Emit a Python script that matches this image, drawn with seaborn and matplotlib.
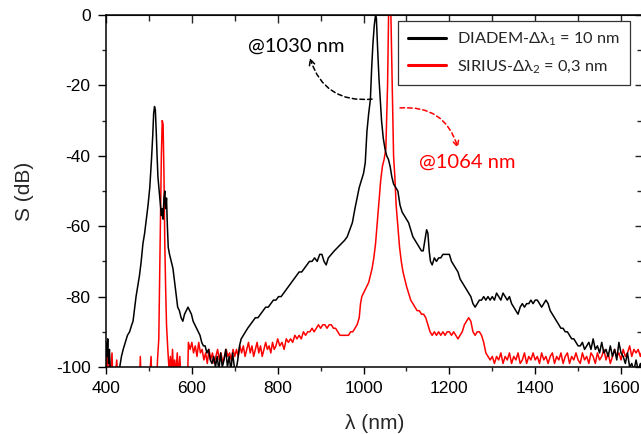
import numpy as np
import pandas as pd
import matplotlib
matplotlib.use("Agg")
import matplotlib.pyplot as plt
from matplotlib.ticker import MultipleLocator
import seaborn as sns

# ---------------- data ----------------
diadem_wl = [400, 402, 404, 406, 408, 410, 412, 430, 432, 436, 440, 445, 450, 455, 460, 463, 466, 470, 474, 478,
             482, 486, 490, 494, 498, 502, 506, 509, 511, 513, 515, 517, 519, 521, 524, 527, 529, 531, 533, 535,
             537, 539, 541, 543, 545, 548, 552, 556, 560, 564, 567, 571, 575, 579, 583, 587, 591, 595, 599, 603,
             607, 611, 615, 619, 623, 627, 631, 635, 639, 643, 647, 651, 655, 659, 663, 667, 671, 675, 679, 683,
             687, 691, 695, 699, 703, 707, 711, 715, 720, 725, 730, 736, 742, 748, 754, 760, 766, 772, 778, 784,
             790, 796, 802, 808, 814, 820, 826, 832, 838, 844, 850, 856, 862, 868, 874, 880, 886, 892, 898, 903,
             908, 913, 918, 925, 932, 940, 948, 956, 962, 968, 974, 980, 985, 990, 995, 1000, 1004, 1008, 1012, 1016,
             1019, 1022, 1025, 1028, 1030, 1033, 1036, 1039, 1042, 1046, 1050, 1054, 1058, 1062, 1066, 1070, 1075, 1080, 1085, 1090,
             1095, 1100, 1105, 1110, 1115, 1120, 1125, 1130, 1135, 1139, 1143, 1147, 1150, 1153, 1156, 1160, 1165, 1170, 1175, 1180,
             1185, 1190, 1195, 1200, 1205, 1210, 1215, 1220, 1225, 1230, 1235, 1240, 1245, 1250, 1255, 1260, 1265, 1270, 1275, 1280,
             1285, 1290, 1295, 1300, 1305, 1310, 1315, 1320, 1325, 1330, 1335, 1340, 1345, 1350, 1355, 1360, 1365, 1370, 1375, 1380,
             1385, 1390, 1395, 1400, 1405, 1410, 1415, 1420, 1425, 1430, 1435, 1440, 1445, 1450, 1455, 1460, 1465, 1470, 1475, 1480,
             1485, 1490, 1495, 1500, 1505, 1510, 1515, 1520, 1525, 1530, 1535, 1540, 1545, 1550, 1555, 1560, 1565, 1570, 1575, 1580,
             1585, 1590, 1595, 1600, 1605, 1610, 1615, 1620, 1625, 1630, 1635, 1640, 1645, 1650]
diadem_db = [-93, -97, -92, -99, -95, -101, -104, -105, -100, -97, -95, -93, -91, -90, -88, -87, -84, -80, -77, -74,
             -70, -65, -62, -58, -54, -49, -41, -34, -28, -26, -27, -33, -40, -46, -50, -54, -57, -55, -58, -52,
             -50, -55, -52, -60, -66, -68, -70, -72, -76, -80, -83, -84, -86, -87, -85, -84, -83, -84, -85, -87,
             -88, -89, -90, -91, -93, -94, -94, -96, -95, -98, -99, -97, -100, -97, -101, -96, -100, -98, -95, -100,
             -97, -101, -96, -100, -101, -98, -94, -92, -91, -90, -89, -88, -87, -86, -86, -85, -84, -83, -83, -82,
             -81, -81, -80, -80, -79, -78, -77, -76, -75, -74, -73, -73, -72, -71, -70, -70, -69, -70, -68, -68,
             -70, -71, -69, -68, -67, -66, -65, -64, -63, -61, -59, -55, -52, -49, -47, -45, -42, -33, -28, -24,
             -15, -8, -3, 0, -1, -10, -18, -24, -30, -35, -38, -40, -41, -43, -46, -48, -49, -50, -54, -56,
             -57, -58, -59, -61, -63, -64, -65, -66, -67, -67, -64, -61, -62, -67, -70, -71, -69, -70, -69, -69,
             -68, -68, -68, -68, -70, -71, -72, -73, -75, -76, -77, -78, -79, -80, -82, -83, -82, -81, -81, -80,
             -81, -80, -81, -80, -81, -79, -80, -81, -79, -80, -81, -80, -82, -83, -84, -85, -83, -82, -83, -82,
             -82, -81, -82, -81, -81, -82, -83, -82, -81, -82, -84, -85, -86, -87, -88, -89, -89, -90, -90, -91,
             -92, -92, -93, -94, -94, -93, -95, -94, -93, -95, -92, -95, -94, -96, -93, -96, -95, -97, -94, -97,
             -95, -98, -93, -96, -97, -99, -96, -100, -99, -101, -98, -101, -99, -101]

sirius_wl = [400, 402, 404, 406, 408, 410, 414, 416, 420, 425, 428, 440, 460, 478, 480, 482, 500, 505, 507, 518,
             520, 523, 525, 527, 529, 531, 533, 535, 537, 539, 541, 544, 547, 550, 552, 555, 557, 560, 563, 566,
             569, 572, 575, 580, 590, 592, 596, 600, 604, 608, 612, 616, 620, 624, 628, 632, 636, 640, 644, 648,
             652, 656, 660, 664, 668, 672, 676, 680, 684, 688, 692, 696, 700, 704, 708, 712, 716, 720, 724, 728,
             732, 736, 740, 744, 748, 752, 756, 760, 764, 768, 772, 776, 780, 784, 788, 792, 796, 800, 805, 810,
             815, 820, 825, 830, 835, 840, 845, 850, 855, 860, 865, 870, 875, 880, 885, 890, 895, 900, 905, 910,
             915, 920, 925, 930, 935, 940, 945, 950, 955, 960, 965, 970, 975, 980, 985, 990, 993, 996, 1000, 1004,
             1008, 1012, 1016, 1020, 1024, 1028, 1032, 1036, 1040, 1044, 1048, 1052, 1056, 1059, 1063, 1067, 1070, 1073, 1076, 1080,
             1084, 1088, 1092, 1096, 1100, 1105, 1110, 1115, 1120, 1125, 1130, 1135, 1140, 1145, 1150, 1155, 1160, 1165, 1170, 1175,
             1180, 1185, 1190, 1195, 1200, 1205, 1210, 1215, 1220, 1225, 1230, 1235, 1240, 1245, 1250, 1255, 1260, 1265, 1270, 1275,
             1280, 1285, 1290, 1295, 1300, 1305, 1310, 1315, 1320, 1325, 1330, 1335, 1340, 1345, 1350, 1355, 1360, 1365, 1370, 1375,
             1380, 1385, 1390, 1395, 1400, 1405, 1410, 1415, 1420, 1425, 1430, 1435, 1440, 1445, 1450, 1455, 1460, 1465, 1470, 1475,
             1480, 1485, 1490, 1495, 1500, 1505, 1510, 1515, 1520, 1525, 1530, 1535, 1540, 1545, 1550, 1555, 1560, 1565, 1570, 1575,
             1580, 1585, 1590, 1595, 1600, 1605, 1610, 1615, 1620, 1625, 1630, 1635, 1640, 1645, 1650]
sirius_db = [-101, -96, -100, -103, -99, -104, -96, -104, -105, -98, -105, -106, -106, -105, -97, -105, -106, -97, -105, -104,
             -98, -92, -75, -60, -40, -30, -31, -45, -65, -78, -88, -95, -101, -97, -103, -95, -101, -98, -102, -96,
             -103, -97, -104, -103, -104, -93, -95, -93, -96, -94, -97, -93, -96, -95, -98, -96, -99, -95, -98, -96,
             -99, -97, -95, -98, -96, -99, -97, -95, -97, -96, -98, -95, -97, -95, -97, -94, -96, -94, -97, -95,
             -93, -96, -94, -97, -95, -93, -96, -94, -97, -95, -93, -95, -94, -96, -93, -95, -94, -92, -94, -93,
             -95, -92, -93, -92, -93, -91, -92, -91, -92, -90, -91, -90, -90, -89, -90, -89, -88, -89, -88, -88,
             -89, -88, -88, -89, -89, -90, -91, -91, -91, -91, -91, -90, -90, -89, -88, -86, -82, -80, -79, -78,
             -77, -76, -74, -72, -69, -65, -59, -53, -47, -43, -41, -38, -20, 5, 5, -20, -40, -46, -54, -60,
             -66, -70, -73, -75, -77, -79, -81, -82, -83, -84, -84, -85, -85, -86, -88, -90, -91, -90, -91, -90,
             -91, -90, -91, -90, -90, -91, -90, -91, -92, -91, -90, -88, -87, -86, -87, -90, -91, -90, -90, -91,
             -93, -96, -97, -98, -97, -99, -97, -98, -96, -99, -97, -98, -96, -99, -97, -98, -96, -99, -98, -96,
             -99, -97, -98, -96, -98, -97, -99, -96, -98, -97, -99, -97, -96, -99, -97, -98, -96, -99, -97, -96,
             -99, -97, -98, -96, -98, -99, -96, -98, -97, -99, -96, -97, -99, -96, -98, -97, -95, -98, -96, -99,
             -97, -95, -97, -96, -98, -95, -97, -96, -94, -97, -95, -96, -95, -97, -95]

series_names = ["DIADEM", "SIRIUS"]
legend_labels = [r"DIADEM-$\mathregular{Δλ_1}$ = 10 nm", r"SIRIUS-$\mathregular{Δλ_2}$ = 0,3 nm"]
x_ticks = [400, 600, 800, 1000, 1200, 1400, 1600]
y_ticks = [0, -20, -40, -60, -80, -100]

# ---------------- figure ----------------
sns.set_style("ticks")
plt.rcParams["font.family"] = ["Liberation Sans", "DejaVu Sans"]
plt.rcParams["mathtext.fontset"] = "custom"

df = pd.concat([
    pd.DataFrame({"wl": diadem_wl, "S": diadem_db, "src": series_names[0]}),
    pd.DataFrame({"wl": sirius_wl, "S": sirius_db, "src": series_names[1]}),
])

fig = plt.figure(figsize=(6.41, 4.34), dpi=100)
L, B = 106 / 641, 1 - 367 / 434
W, H = (642.5 - 106) / 641, (367 - 15) / 434
ax = fig.add_axes([L, B, W, H])

sns.lineplot(data=df, x="wl", y="S", hue="src", palette={"DIADEM": "black", "SIRIUS": "#ff0000"},
             hue_order=["SIRIUS", "DIADEM"], sort=False, estimator=None, units="src",
             linewidth=1.1, ax=ax, legend=False)

ax.set_xlim(400, 400 + (642.5 - 106) / 0.4292)
ax.set_ylim(-100, 0)
ax.set_xticks(x_ticks)
ax.set_yticks(y_ticks)
ax.set_yticklabels([f"{v}" for v in y_ticks])
ax.set_xticklabels([f"{v}" for v in x_ticks])
ax.xaxis.set_minor_locator(MultipleLocator(100))
ax.yaxis.set_minor_locator(MultipleLocator(10))
ax.tick_params(axis="x", which="major", direction="out", length=5, width=1, labelsize=12.5, colors="black", pad=5)
ax.tick_params(axis="y", which="major", direction="out", length=6, width=1, labelsize=12.5, colors="black", pad=5)
ax.tick_params(which="minor", direction="out", length=3, width=1)
for s in ["left", "bottom", "top", "right"]:
    ax.spines[s].set_visible(True)
    ax.spines[s].set_linewidth(1.1)
    ax.spines[s].set_color("black")

top = ax.secondary_xaxis("top")
top.set_xticks(x_ticks)
top.xaxis.set_minor_locator(MultipleLocator(100))
top.tick_params(which="major", direction="in", length=6, width=1, labeltop=False)
top.tick_params(which="minor", direction="in", length=4, width=1)
right = ax.secondary_yaxis("right")
right.set_yticks(y_ticks)
right.yaxis.set_minor_locator(MultipleLocator(10))
right.tick_params(which="major", direction="in", length=6, width=1, labelright=False)
right.tick_params(which="minor", direction="in", length=4, width=1)

ax.set_xlabel("λ (nm)", fontsize=15, labelpad=13)
ax.set_ylabel("S (dB)", fontsize=15, labelpad=16)

handles = [plt.Line2D([], [], color="black", lw=2.2), plt.Line2D([], [], color="#ff0000", lw=2.2)]
leg = ax.legend(handles, legend_labels, loc="upper right", bbox_to_anchor=(630 / 641, 1 - 21 / 434),
                bbox_transform=fig.transFigure, frameon=True, fancybox=False, framealpha=1,
                edgecolor="#333333", prop={"family": "Lato", "size": 11.8}, handlelength=2.3,
                handletextpad=0.7, labelspacing=0.6, borderpad=0.6, borderaxespad=0)
leg.get_frame().set_linewidth(0.9)

ax.text(843, -8.8, "@1030 nm", color="black", fontsize=14.5, family="Lato", ha="center", va="center")
ax.text(1241, -41.8, "@1064 nm", color="#ff0000", fontsize=14.5, family="Lato", ha="center", va="center")
ax.annotate("", xy=(875, -12.2), xytext=(1020, -23.9),
            arrowprops=dict(arrowstyle="->", linestyle=(0, (3, 2)), color="black", lw=1.1,
                            connectionstyle="arc3,rad=-0.4", shrinkA=0, shrinkB=0))
ax.annotate("", xy=(1220, -37.8), xytext=(1085, -26.4),
            arrowprops=dict(arrowstyle="->", linestyle=(0, (3, 2)), color="#ff0000", lw=1.1,
                            connectionstyle="arc3,rad=-0.4", shrinkA=0, shrinkB=0))

fig.savefig("out.png", dpi=100)
